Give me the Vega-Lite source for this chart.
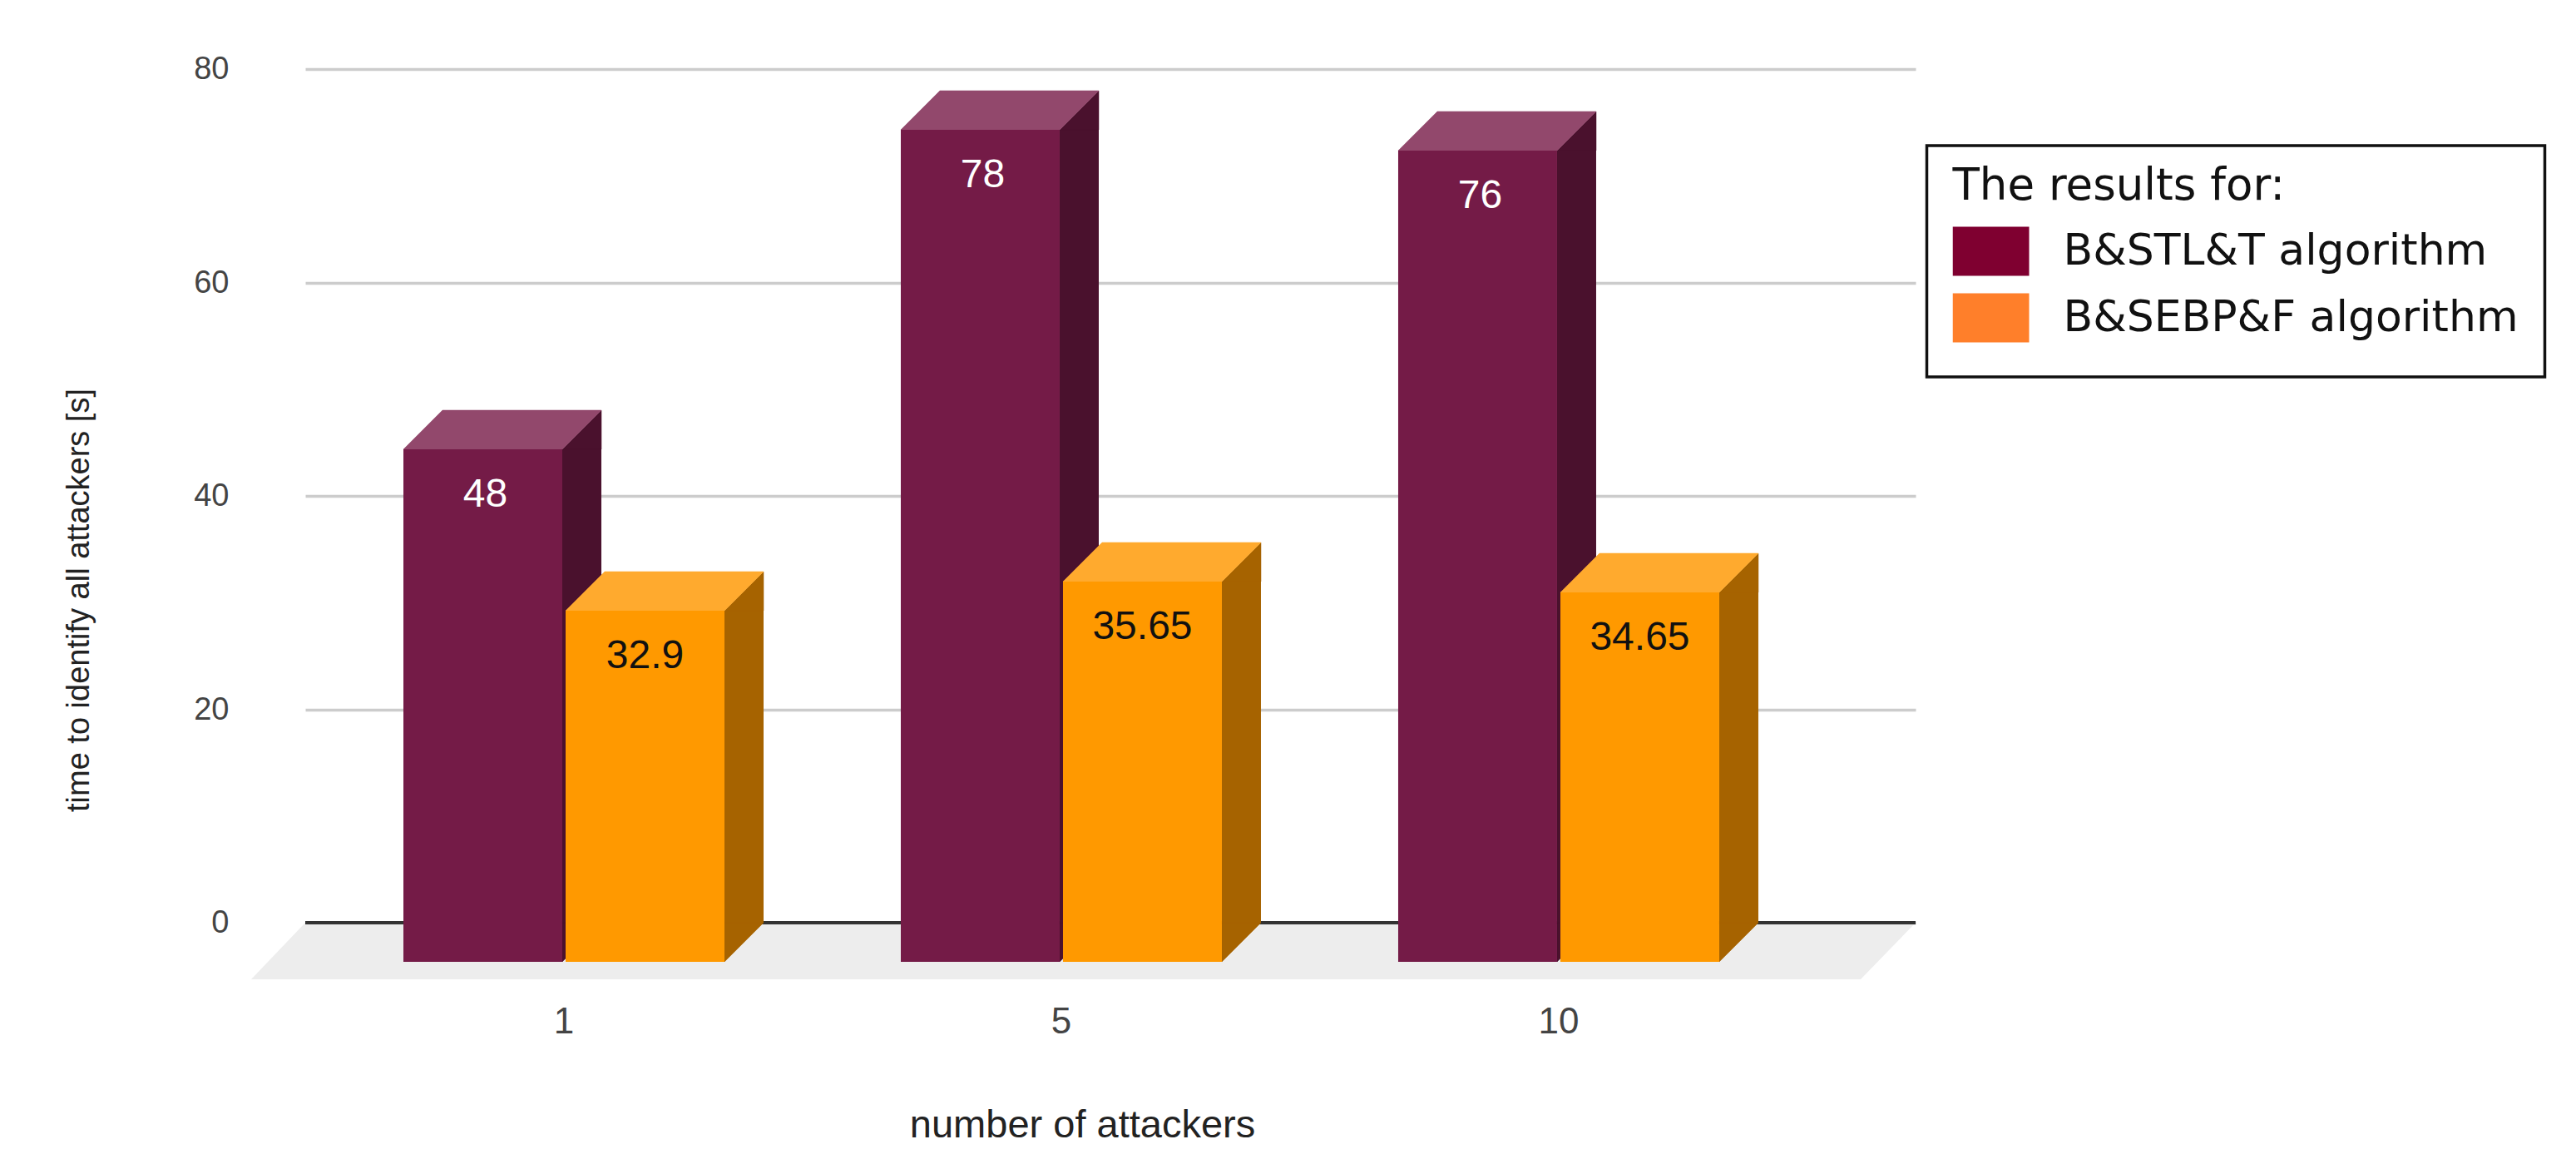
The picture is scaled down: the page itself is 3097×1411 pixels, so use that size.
{"$schema":"https://vega.github.io/schema/vega-lite/v6.json","width":1936,"height":1026,"autosize":"none","padding":{"left":367,"top":83,"right":794,"bottom":302},"background":"white","config":{"view":{"stroke":null},"legend":{"strokeWidth":3.5},"font":"Liberation Sans"},"datasets":{"bars":[{"attackers":1,"series":"B&STL&T algorithm","time":48},{"attackers":5,"series":"B&STL&T algorithm","time":78},{"attackers":10,"series":"B&STL&T algorithm","time":76},{"attackers":1,"series":"B&SEBP&F algorithm","time":32.9},{"attackers":5,"series":"B&SEBP&F algorithm","time":35.65},{"attackers":10,"series":"B&SEBP&F algorithm","time":34.65}]},"data":{"name":"bars"},"encoding":{"x":{"field":"attackers","type":"nominal","sort":null,"scale":{"type":"band","domain":[1,5,10],"paddingInner":0,"paddingOuter":0.11875,"align":0.0845},"axis":{"title":"number of attackers","labelAngle":0,"domain":false,"ticks":false,"labelPadding":97,"labelFontSize":44,"labelColor":"#444444","titleFontSize":47,"titleFont":"Liberation Sans","titleFontWeight":"normal","titleColor":"#222222","titleX":934,"titleY":243,"titleBaseline":"middle"}},"y":{"field":"time","type":"quantitative","stack":null,"scale":{"domain":[0,80],"nice":false,"zero":true,"round":true},"axis":{"title":"time to identify all attackers [s]","values":[0,20,40,60,80],"domain":false,"ticks":false,"labelPadding":92,"labelFontSize":38,"labelColor":"#444444","grid":true,"gridColor":"#cccccc","gridWidth":3.5,"titleFontSize":38,"titleFontWeight":"normal","titleColor":"#222222","titleX":-272,"titleY":638,"titleBaseline":"middle"}}},"layer":[{"data":{"name":"bars"},"transform":[{"filter":"datum.attackers===5 && datum.series==='B&STL&T algorithm'"}],"mark":{"type":"point","filled":true,"opacity":1,"size":4,"shape":"M-909,0H1027L961,68H-974Z","fill":"#ededed"},"encoding":{"y":{"datum":0,"type":"quantitative"}}},{"mark":{"type":"rule","stroke":"#333333","strokeWidth":3.5},"encoding":{"x":{"value":0},"x2":{"value":1936},"y":{"datum":0,"type":"quantitative"}}},{"mark":{"type":"point","filled":true,"size":1,"opacity":1,"yOffset":100},"encoding":{"color":{"field":"series","type":"nominal","scale":{"domain":["B&STL&T algorithm","B&SEBP&F algorithm"],"range":["#7f0030","#ff7f2a"]},"legend":{"title":"The results for:","orient":"none","legendX":1949.5,"legendY":92,"padding":31,"fillColor":"white","strokeColor":"#111111","titleFont":"DejaVu Sans","titleFontSize":53,"titleFontWeight":"normal","titleColor":"#111111","titleLimit":700,"titleBaseline":"line-top","titleLineHeight":37,"titlePadding":3,"labelFont":"DejaVu Sans","labelFontSize":52,"labelColor":"#111111","labelLimit":700,"labelOffset":41,"symbolType":"M-1,-0.64H1V0.64H-1Z","symbolSize":8464,"symbolStrokeWidth":0,"symbolOpacity":1,"clipHeight":80,"rowPadding":0}}}},{"transform":[{"filter":"datum.series==='B&STL&T algorithm'"}],"mark":{"type":"bar","width":47,"xOffset":21.5,"yOffset":47,"y2Offset":0.01,"fill":"#4a112d"},"encoding":{"y2":{"datum":0}}},{"transform":[{"filter":"datum.series==='B&STL&T algorithm'"}],"mark":{"type":"point","filled":true,"opacity":1,"size":4,"shape":"M0,47L47,0V47Z","fill":"#4a112d","stroke":"#4a112d","strokeWidth":0.5,"xOffset":-2}},{"transform":[{"filter":"datum.series==='B&STL&T algorithm'"}],"mark":{"type":"point","filled":true,"opacity":1,"size":4,"shape":"M0,0H47L0,47Z","fill":"#4a112d","stroke":"#4a112d","strokeWidth":0.5,"xOffset":-2},"encoding":{"y":{"datum":0,"type":"quantitative"}}},{"transform":[{"filter":"datum.series==='B&STL&T algorithm'"}],"mark":{"type":"point","filled":true,"opacity":1,"size":4,"shape":"M0,47H191L238,0H47Z","fill":"#92486c","stroke":"#92486c","strokeWidth":0.5,"xOffset":-193}},{"transform":[{"filter":"datum.series==='B&STL&T algorithm'"}],"mark":{"type":"bar","width":191,"xOffset":-97.5,"yOffset":47,"y2Offset":47,"fill":"#741b47"},"encoding":{"y2":{"datum":0}}},{"transform":[{"filter":"datum.series==='B&SEBP&F algorithm'"}],"mark":{"type":"bar","width":47,"xOffset":216.5,"yOffset":47,"y2Offset":0.01,"fill":"#a66300"},"encoding":{"y2":{"datum":0}}},{"transform":[{"filter":"datum.series==='B&SEBP&F algorithm'"}],"mark":{"type":"point","filled":true,"opacity":1,"size":4,"shape":"M0,47L47,0V47Z","fill":"#a66300","stroke":"#a66300","strokeWidth":0.5,"xOffset":193}},{"transform":[{"filter":"datum.series==='B&SEBP&F algorithm'"}],"mark":{"type":"point","filled":true,"opacity":1,"size":4,"shape":"M0,0H47L0,47Z","fill":"#a66300","stroke":"#a66300","strokeWidth":0.5,"xOffset":193},"encoding":{"y":{"datum":0,"type":"quantitative"}}},{"transform":[{"filter":"datum.series==='B&SEBP&F algorithm'"}],"mark":{"type":"point","filled":true,"opacity":1,"size":4,"shape":"M0,47H191L238,0H47Z","fill":"#ffaa2e","stroke":"#ffaa2e","strokeWidth":0.5,"xOffset":2}},{"transform":[{"filter":"datum.series==='B&SEBP&F algorithm'"}],"mark":{"type":"bar","width":191,"xOffset":97.5,"yOffset":47,"y2Offset":47,"fill":"#ff9900"},"encoding":{"y2":{"datum":0}}},{"transform":[{"filter":"datum.series==='B&STL&T algorithm'"}],"mark":{"type":"text","xOffset":-94.5,"yOffset":116,"baseline":"alphabetic","fontSize":48,"fill":"#ffffff","font":"Liberation Sans"},"encoding":{"text":{"field":"time","type":"quantitative"}}},{"transform":[{"filter":"datum.series==='B&SEBP&F algorithm'"}],"mark":{"type":"text","xOffset":97.5,"yOffset":116,"baseline":"alphabetic","fontSize":48,"fill":"#111111","font":"Liberation Sans"},"encoding":{"text":{"field":"time","type":"quantitative"}}}]}
